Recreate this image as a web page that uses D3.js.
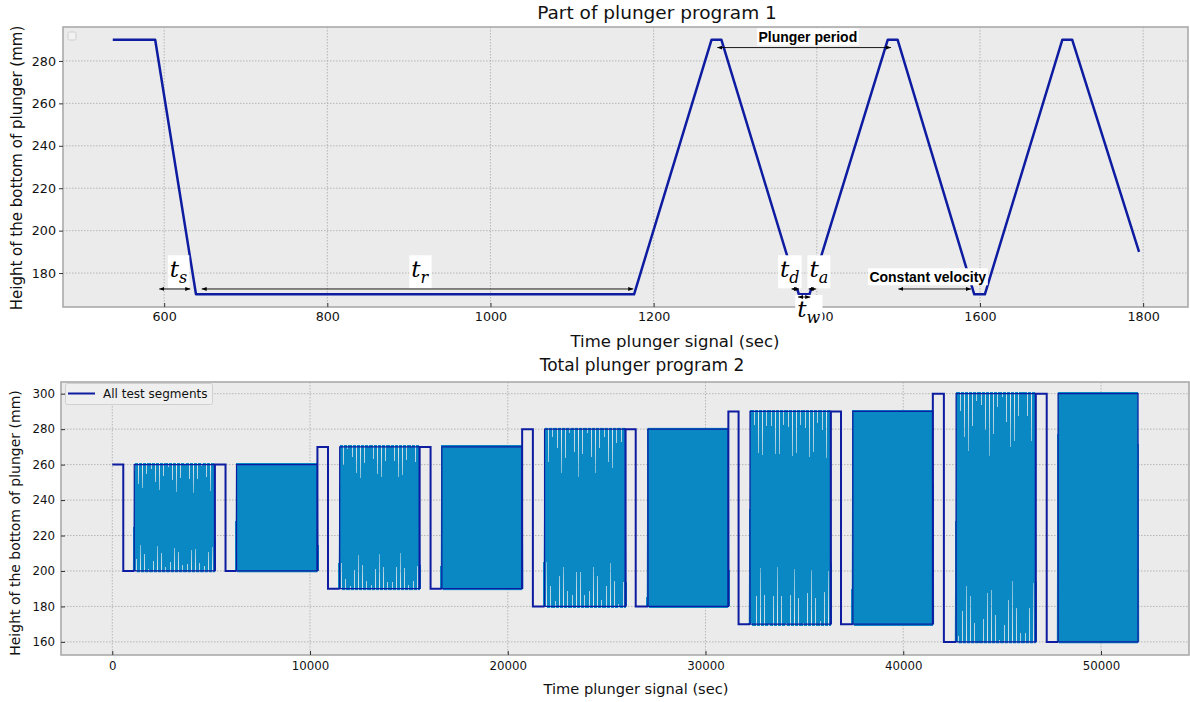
<!DOCTYPE html>
<html>
<head>
<meta charset="utf-8">
<script src="https://cdn.jsdelivr.net/npm/d3@7"></script>
<style>
  body { margin: 0; background: #fff; }
  svg { display: block; font-family: "DejaVu Sans", sans-serif; }
  .grid line { stroke: #b0b0b0; stroke-width: 0.9; stroke-dasharray: 1.5,1.5; }
  .axis path { display: none; }
  .axis line { stroke: #333; }
  .axis text { fill: #111; font-family: "DejaVu Sans", sans-serif; }
</style>
</head>
<body>
<div id="chart"></div>
<script>
// ---------- Part of plunger program 1 ----------
const p1Time   = [537, 589, 639, 1176, 1271, 1283, 1378, 1391, 1487, 1499, 1593, 1606, 1701, 1713, 1795];
const p1Height = [290, 290, 170, 170, 290, 290, 170, 170, 290, 290, 170, 170, 290, 290, 190];
const p1XTicks = [600, 800, 1000, 1200, 1400, 1600, 1800];
const p1YTicks = [180, 200, 220, 240, 260, 280];

// double headed arrows (sec, mm)
const arrowFrom = [594, 646, 1369, 1390, 1377, 1500, 1278];
const arrowTo   = [632, 1175, 1378, 1399, 1392, 1589, 1491];
const arrowAt   = [172.5, 172.5, 172.5, 172.5, 168.7, 172.5, 286.3];

// t_x labels
const mathSub = ['s', 'r', 'd', 'a', 'w'];
const mathX   = [607, 903, 1355, 1391, 1376];
const mathY   = [178, 178, 178, 178, 159.3];

// bold text labels
const textLabels = ['Plunger period', 'Constant velocity'];
const textX = [1389, 1536];
const textY = [289, 175.9];

// ---------- Total plunger program 2 ----------
const segStart  = [0, 5187, 10374, 15540, 20727, 25955, 31156, 36336, 41496, 46698];
const highEnd   = [556, 5727, 10909, 16096, 21270, 26470, 31672, 36852, 42054, 47255];
const lowEnd    = [1111, 6283, 11500, 16667, 21860, 27090, 32250, 37451, 42673, 47833];
const segEnd    = [5187, 10374, 15540, 20727, 25955, 31156, 36336, 41496, 46698, 51870];
const segHigh   = [260, 260, 270, 270, 280, 280, 290, 290, 300, 300];
const segLow    = [200, 200, 190, 190, 180, 180, 170, 170, 160, 160];
const segCycles = [19, 34, 19, 34, 19, 34, 19, 34, 19, 34];
// one plunger cycle: rise, hold top, fall, hold bottom (fraction of period)
const cycleFrac  = [0, 0.442, 0.498, 0.940, 1];
const cycleLevel = [0, 1, 1, 0, 0];
const p2XTicks = [0, 10000, 20000, 30000, 40000, 50000];
const p2YTicks = [160, 180, 200, 220, 240, 260, 280, 300];

const dark = '#0d1ca0';
const mid = '#0a88c4';

const svg = d3.select('#chart').append('svg')
    .attr('width', 1190)
    .attr('height', 702);

const defs = svg.append('defs');
['start', 'end'].forEach(k => {
  defs.append('marker')
      .attr('id', 'arr-' + k)
      .attr('viewBox', '0 -5 10 10')
      .attr('refX', k === 'end' ? 10 : 0)
      .attr('refY', 0)
      .attr('markerWidth', 5)
      .attr('markerHeight', 5)
      .attr('markerUnits', 'userSpaceOnUse')
      .attr('orient', 'auto')
    .append('path')
      .attr('d', k === 'end' ? 'M0,-4L10,0L0,4Z' : 'M10,-4L0,0L10,4Z')
      .attr('fill', '#000');
});

// Build one panel: background, grid, frame, axes
function panel(cfg) {
  const x = d3.scaleLinear().domain(cfg.xDomain).range([cfg.left, cfg.right]);
  const y = d3.scaleLinear().domain(cfg.yDomain).range([cfg.bottom, cfg.top]);
  const g = svg.append('g');

  g.append('rect')
      .attr('x', cfg.left).attr('y', cfg.top)
      .attr('width', cfg.right - cfg.left).attr('height', cfg.bottom - cfg.top)
      .attr('fill', '#ebebeb');

  const grid = g.append('g').attr('class', 'grid');
  grid.selectAll('.gx').data(cfg.xTicks).join('line')
      .attr('x1', d => x(d)).attr('x2', d => x(d))
      .attr('y1', cfg.top).attr('y2', cfg.bottom);
  grid.selectAll('.gy').data(cfg.yTicks).join('line')
      .attr('y1', d => y(d)).attr('y2', d => y(d))
      .attr('x1', cfg.left).attr('x2', cfg.right);

  defs.append('clipPath').attr('id', cfg.id)
    .append('rect')
      .attr('x', cfg.left).attr('y', cfg.top)
      .attr('width', cfg.right - cfg.left).attr('height', cfg.bottom - cfg.top);

  const plot = g.append('g').attr('clip-path', `url(#${cfg.id})`);

  const over = svg.append('g');
  over.append('rect')
      .attr('x', cfg.left).attr('y', cfg.top)
      .attr('width', cfg.right - cfg.left).attr('height', cfg.bottom - cfg.top)
      .attr('fill', 'none').attr('stroke', '#aaaaaa').attr('stroke-width', 1.6);

  over.append('g').attr('class', 'axis')
      .attr('transform', `translate(0,${cfg.bottom})`)
      .call(d3.axisBottom(x).tickValues(cfg.xTicks).tickSize(-4).tickPadding(cfg.xPad).tickFormat(d3.format('d')))
      .selectAll('text').attr('font-size', cfg.tickFont);

  over.append('g').attr('class', 'axis')
      .attr('transform', `translate(${cfg.left},0)`)
      .call(d3.axisLeft(y).tickValues(cfg.yTicks).tickSize(cfg.yTick).tickPadding(cfg.yPad))
      .selectAll('text').attr('font-size', cfg.tickFont);

  over.append('text')
      .attr('x', cfg.titleX).attr('y', cfg.titleY)
      .attr('text-anchor', 'middle').attr('font-size', cfg.titleFont).attr('fill', '#111')
      .text(cfg.title);
  over.append('text')
      .attr('x', cfg.xLabelX).attr('y', cfg.xLabelY)
      .attr('text-anchor', 'middle').attr('font-size', cfg.labelFont).attr('fill', '#111')
      .text('Time plunger signal (sec)');
  over.append('text')
      .attr('transform', `translate(${cfg.yLabelX},${cfg.yLabelY}) rotate(-90)`)
      .attr('text-anchor', 'middle').attr('font-size', cfg.yLabelFont).attr('fill', '#111')
      .text('Height of the bottom of plunger (mm)');

  return {x, y, plot, over};
}

// white box behind a text element
function boxBehind(parent, textSel, pad) {
  const b = textSel.node().getBBox();
  parent.insert('rect', () => textSel.node())
      .attr('x', b.x - pad).attr('y', b.y - pad + 1)
      .attr('width', b.width + 2 * pad).attr('height', b.height + 2 * pad - 2)
      .attr('fill', '#fff');
}

// ---------- top chart ----------
const chart1 = panel({
  id: 'clip1', left: 63, right: 1188, top: 27, bottom: 307,
  xDomain: [476, 1855], yDomain: [164, 296],
  xTicks: p1XTicks, yTicks: p1YTicks, yTick: 4, xPad: 5, yPad: 3, tickFont: 12.7,
  title: 'Part of plunger program 1', titleX: 657, titleY: 19, titleFont: 18.5,
  xLabelX: 675, xLabelY: 347, labelFont: 16.5, yLabelX: 22, yLabelY: 168, yLabelFont: 15
});

chart1.over.append('rect')
    .attr('x', 68).attr('y', 32).attr('width', 8).attr('height', 8).attr('rx', 1.5)
    .attr('fill', '#f2f2f2').attr('stroke', '#cfcfcf');

chart1.plot.append('path')
    .datum(d3.zip(p1Time, p1Height))
    .attr('fill', 'none')
    .attr('stroke', dark)
    .attr('stroke-width', 2.5)
    .attr('stroke-linejoin', 'round')
    .attr('d', d3.line().x(d => chart1.x(d[0])).y(d => chart1.y(d[1])));

const ann = svg.append('g');
textLabels.forEach((t, i) => {
  const txt = ann.append('text')
      .attr('x', chart1.x(textX[i])).attr('y', chart1.y(textY[i]))
      .attr('text-anchor', 'middle')
      .attr('font-family', '"Liberation Sans", Arial, sans-serif')
      .attr('font-weight', 'bold').attr('font-size', 14)
      .text(t);
  boxBehind(ann, txt, 1.5);
});
mathSub.forEach((s, i) => {
  const txt = ann.append('text')
      .attr('x', chart1.x(mathX[i])).attr('y', chart1.y(mathY[i]))
      .attr('font-family', '"DejaVu Serif", serif')
      .attr('font-style', 'italic').attr('font-size', 23);
  txt.append('tspan').text('t');
  txt.append('tspan').attr('dy', 6).attr('font-size', 16).text(s);
  boxBehind(ann, txt, 2);
});
arrowFrom.forEach((a, i) => {
  ann.append('line')
      .attr('x1', chart1.x(a)).attr('x2', chart1.x(arrowTo[i]))
      .attr('y1', chart1.y(arrowAt[i])).attr('y2', chart1.y(arrowAt[i]))
      .attr('stroke', '#000').attr('stroke-width', 0.9)
      .attr('marker-start', 'url(#arr-start)')
      .attr('marker-end', 'url(#arr-end)');
});

// ---------- bottom chart ----------
const chart2 = panel({
  id: 'clip2', left: 61, right: 1189, top: 382, bottom: 655,
  xDomain: [-2593, 54450], yDomain: [152.6, 306.6],
  xTicks: p2XTicks, yTicks: p2YTicks, yTick: -4, xPad: 7, yPad: 6, tickFont: 11.8,
  title: 'Total plunger program 2', titleX: 642, titleY: 371, titleFont: 17,
  xLabelX: 636, xLabelY: 694, labelFont: 14.6, yLabelX: 20, yLabelY: 523, yLabelFont: 14
});

const line2 = d3.line().x(d => chart2.x(d[0])).y(d => chart2.y(d[1]));

// oscillating test blocks
segStart.forEach((s, i) => {
  const period = (segEnd[i] - lowEnd[i]) / segCycles[i];
  const pts = [];
  for (let c = 0; c < segCycles[i]; c++) {
    cycleFrac.forEach((f, k) => {
      pts.push([lowEnd[i] + (c + f) * period, segLow[i] + cycleLevel[k] * (segHigh[i] - segLow[i])]);
    });
  }
  // crisp pass keeps the middle solid, soft pass tints the gaps at the extremes
  chart2.plot.append('path')
      .datum(pts)
      .attr('fill', 'none')
      .attr('stroke', mid)
      .attr('stroke-width', 3)
      .attr('shape-rendering', 'crispEdges')
      .attr('d', line2);
  chart2.plot.append('path')
      .datum(pts)
      .attr('fill', 'none')
      .attr('stroke', mid)
      .attr('stroke-opacity', 0.55)
      .attr('stroke-width', 3)
      .attr('d', line2);
  chart2.plot.append('path')
      .datum([[lowEnd[i], segLow[i]], [lowEnd[i], segHigh[i]], [segEnd[i], segHigh[i]], [segEnd[i], segLow[i]], [lowEnd[i], segLow[i]]])
      .attr('fill', 'none')
      .attr('stroke', dark)
      .attr('stroke-width', 1.2)
      .attr('d', line2);
});

// hold steps between blocks
segStart.forEach((s, i) => {
  const pts = [];
  if (i > 0) pts.push([s, segLow[i - 1]]);
  pts.push([s, segHigh[i]], [highEnd[i], segHigh[i]], [highEnd[i], segLow[i]], [lowEnd[i], segLow[i]]);
  chart2.plot.append('path')
      .datum(pts)
      .attr('fill', 'none')
      .attr('stroke', dark)
      .attr('stroke-width', 2)
      .attr('d', line2);
});

// legend
const leg = chart2.over.append('g');
leg.append('rect')
    .attr('x', 65.5).attr('y', 383.5).attr('width', 147).attr('height', 21).attr('rx', 2)
    .attr('fill', '#f0f0f0').attr('fill-opacity', 0.85).attr('stroke', '#d0d0d0');
leg.append('line')
    .attr('x1', 68).attr('x2', 95).attr('y1', 393.5).attr('y2', 393.5)
    .attr('stroke', dark).attr('stroke-width', 2);
leg.append('text')
    .attr('x', 103).attr('y', 398)
    .attr('font-size', 12).attr('fill', '#111')
    .text('All test segments');
</script>
</body>
</html>
